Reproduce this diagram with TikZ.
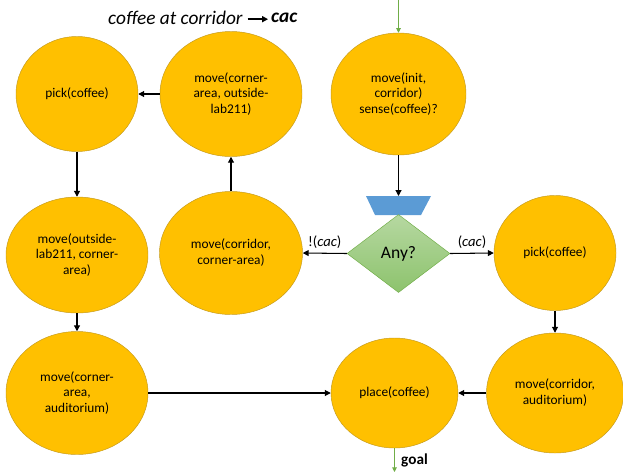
\documentclass[tikz,border=0pt]{standalone}
\usepackage{fontspec}
\setmainfont{Carlito}
\usepackage{tikz}
\usetikzlibrary{shapes.geometric,arrows.meta}
\definecolor{actgold}{HTML}{FFC000}
\definecolor{actrim}{HTML}{C49A1E}
\definecolor{grnline}{HTML}{70AD47}
\definecolor{grntop}{HTML}{B6D8A1}
\definecolor{grnbot}{HTML}{8DC36D}
\definecolor{trapblue}{HTML}{5B9BD5}
\tikzset{
	action/.style={
		ellipse,
		draw=actrim,
		fill=actgold,
		inner sep=0pt,
		align=center,
		font=\fontsize{11.4}{13.6}\selectfont
	},
	decision/.style={
		diamond,
		draw=grnline,
		top color=grntop,
		bottom color=grnbot,
		inner sep=0pt,
		minimum width=3.09cm,
		minimum height=2.34cm,
		font=\fontsize{15}{17}\selectfont
	},
	guard/.style={
		font=\fontsize{12.5}{14}\selectfont
	},
	flow/.style={
		-{Triangle[length=5pt,width=5pt]},
		line width=0.9pt
	},
	greenflow/.style={
		draw=grnline,
		-{Triangle[length=4pt,width=4pt]},
		line width=0.8pt
	}
}
\begin{document}
\begin{tikzpicture}[x=0.03cm,y=-0.03cm]
	\useasboundingbox (0,0) rectangle (623,474);
	% title
	\node[font=\fontsize{16.5}{19}\selectfont\itshape,anchor=west,inner sep=0pt] (title) at (108,18) {coffee at corridor};
	\node[font=\fontsize{16.5}{19}\selectfont\itshape\bfseries,anchor=west,inner sep=0pt] (cac) at (271,18) {cac};
	\draw[-{Triangle[length=5pt,width=5pt]},line width=1.3pt] ([xshift=4pt,yshift=-1pt]title.east) -- ([xshift=-2.5pt,yshift=-1pt]cac.west);
	% actions
	\node[action,minimum width=3.66cm,minimum height=3.45cm] (pickA) at (77,94) {pick(coffee)};
	\node[action,minimum width=4.26cm,minimum height=3.75cm] (mvOut) at (231,94) {move(corner-\\area, outside-\\lab211)};
	\node[action,minimum width=4.05cm,minimum height=3.66cm] (init) at (398.5,94) {move(init,\\corridor)\\sense(coffee)?};
	\node[action,minimum width=4.29cm,minimum height=3.69cm] (mvCorner) at (231,253) {move(corridor,\\corner-area)};
	\node[action,minimum width=4.26cm,minimum height=3.48cm] (mvBack) at (77,255) {move(outside-\\lab211, corner-\\area)};
	\node[action,minimum width=3.66cm,minimum height=3.45cm] (pickB) at (555,253) {pick(coffee)};
	\node[action,minimum width=4.26cm,minimum height=3.69cm] (mvAud) at (77,393) {move(corner-\\area,\\auditorium)};
	\node[action,minimum width=3.81cm,minimum height=3.30cm] (place) at (394.5,393) {place(coffee)};
	\node[action,minimum width=4.11cm,minimum height=3.60cm] (mvCorAud) at (555,393) {move(corridor,\\auditorium)};
	% choice
	\fill[trapblue] (366,196) -- (431,196) -- (421,215) -- (375,215) -- cycle;
	\coordinate (any in) at (398.5,196);
	\node[decision] (any) at (398.5,253.5) {Any?};
	\coordinate (start) at (398.5,0);
	\coordinate (goal) at (394.5,472);
	% connectors
	\draw[greenflow] (start) -- (init.north);
	\draw[flow] (init.south) -- (any in);
	\draw[flow] (any.west) -- node[above,guard] {!(\textit{cac})} (mvCorner.east);
	\draw[flow] (any.east) -- node[above,guard] {(\textit{cac})} (pickB.west);
	\draw[flow] (mvCorner.north) -- (mvOut.south);
	\draw[flow] (mvOut.west) -- (pickA.east);
	\draw[flow] (pickA.south) -- (mvBack.north);
	\draw[flow] (mvBack.south) -- (mvAud.north);
	\draw[flow] (mvAud.east) -- (place.west);
	\draw[flow] (pickB.south) -- (mvCorAud.north);
	\draw[flow] (mvCorAud.west) -- (place.east);
	\draw[greenflow] (place.south) -- node[right,font=\fontsize{13}{15}\selectfont\bfseries,xshift=2pt] {goal} (goal);
\end{tikzpicture}
\end{document}
